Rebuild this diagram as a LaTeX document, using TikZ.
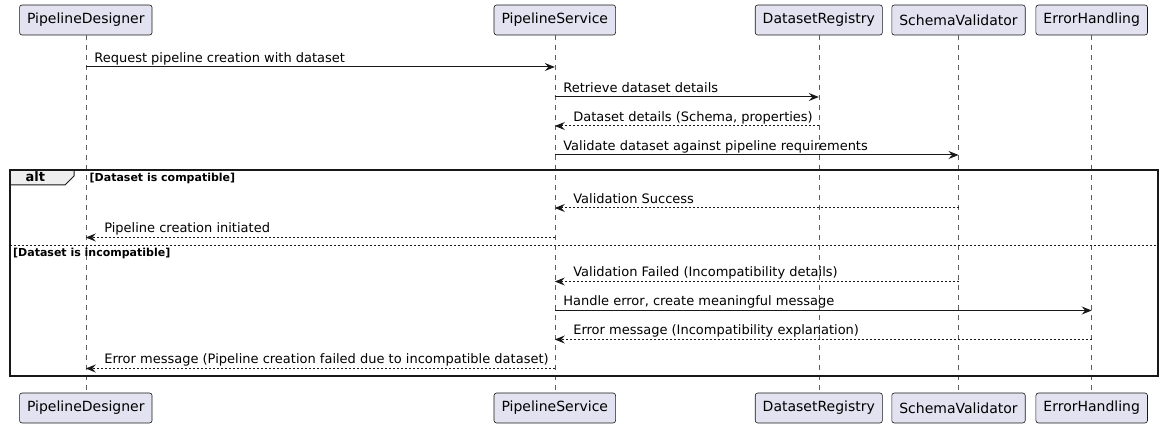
\documentclass[tikz,border=0pt]{standalone}
\usepackage{fontspec}
\setmainfont{DejaVu Sans}
\usetikzlibrary{arrows.meta,positioning}

\definecolor{partfill}{HTML}{E2E2F0}
\definecolor{lineclr}{HTML}{181818}
\definecolor{altfill}{HTML}{EEEEEE}

\tikzset{
  part/.style={rectangle, rounded corners=2.5pt, draw=lineclr, fill=partfill, line width=0.6pt,
    minimum height=30pt, inner xsep=7.5pt, font=\fontsize{14}{16}\selectfont},
  lifeline/.style={draw=lineclr!70, line width=0.5pt, dash pattern=on 5pt off 5pt},
  msg/.style={draw=lineclr, line width=1pt, -{Stealth[length=10pt,width=8pt,inset=3.5pt]}},
  reply/.style={msg, dash pattern=on 2pt off 2pt},
  lbl/.style={anchor=base west, inner sep=0pt, text=black, font=\fontsize{13}{15}\selectfont},
  guard/.style={anchor=base west, inner sep=0pt, font=\fontsize{11}{13}\selectfont\bfseries}
}

\begin{document}
\begin{tikzpicture}[x=1pt, y=-1pt]
\useasboundingbox (0,0) rectangle (1163,427);

% participants, top and bottom
\node[part] (pd) at (85.8,20) {PipelineDesigner};
\node[part] (ps) at (554.8,20) {PipelineService};
\node[part] (dr) at (818.8,20) {DatasetRegistry};
\node[part] (sv) at (958.5,20) {SchemaValidator};
\node[part] (eh) at (1091.7,20) {ErrorHandling};

\node[part] (pdb) at (85.8,408) {PipelineDesigner};
\node[part] (psb) at (554.8,408) {PipelineService};
\node[part] (drb) at (818.8,408) {DatasetRegistry};
\node[part] (svb) at (958.5,408) {SchemaValidator};
\node[part] (ehb) at (1091.7,408) {ErrorHandling};

% lifelines
\foreach \p in {pd,ps,dr,sv,eh}
  \draw[lifeline] (\p.south) -- (\p b.north);

% alt frame
\filldraw[fill=altfill, draw=lineclr, line width=1pt] (10,170) -- (74,170) -- (74,176) -- (65,185) -- (10,185) -- cycle;
\node[anchor=base west, inner sep=0pt, font=\fontsize{13}{15}\selectfont\bfseries] (alt) at (25.5,182) {alt};
\draw[draw=lineclr, line width=1.5pt] (10,170) rectangle (1158,376);
\draw[draw=lineclr, line width=1pt, dash pattern=on 2pt off 2pt] (10,246) -- (1158,246);
\node[guard] (g1) at (89.5,181.5) {[Dataset is compatible]};
\node[guard] (g2) at (13,256.5) {[Dataset is incompatible]};

% messages
\draw[msg] (pd |- 0,67) -- (ps |- 0,67)
  node[lbl, pos=0, xshift=8pt, yshift=4.5pt] {Request pipeline creation with dataset};
\draw[msg] (ps |- 0,97) -- (dr |- 0,97)
  node[lbl, pos=0, xshift=8pt, yshift=4.5pt] {Retrieve dataset details};
\draw[reply] (dr |- 0,126) -- (ps |- 0,126)
  node[lbl, pos=1, xshift=18pt, yshift=4.5pt] {Dataset details (Schema, properties)};
\draw[msg] (ps |- 0,155) -- (sv |- 0,155)
  node[lbl, pos=0, xshift=8pt, yshift=4.5pt] {Validate dataset against pipeline requirements};

\draw[reply] (sv |- 0,208) -- (ps |- 0,208)
  node[lbl, pos=1, xshift=18pt, yshift=4.5pt] {Validation Success};
\draw[reply] (ps |- 0,237.5) -- (pd |- 0,237.5)
  node[lbl, pos=1, xshift=18pt, yshift=4.5pt] {Pipeline creation initiated};

\draw[reply] (sv |- 0,281.5) -- (ps |- 0,281.5)
  node[lbl, pos=1, xshift=18pt, yshift=4.5pt] {Validation Failed (Incompatibility details)};
\draw[msg] (ps |- 0,310.5) -- (eh |- 0,310.5)
  node[lbl, pos=0, xshift=8pt, yshift=4.5pt] {Handle error, create meaningful message};
\draw[reply] (eh |- 0,339.5) -- (ps |- 0,339.5)
  node[lbl, pos=1, xshift=18pt, yshift=4.5pt] {Error message (Incompatibility explanation)};
\draw[reply] (ps |- 0,368.5) -- (pd |- 0,368.5)
  node[lbl, pos=1, xshift=18pt, yshift=4.5pt] {Error message (Pipeline creation failed due to incompatible dataset)};

\end{tikzpicture}
\end{document}
